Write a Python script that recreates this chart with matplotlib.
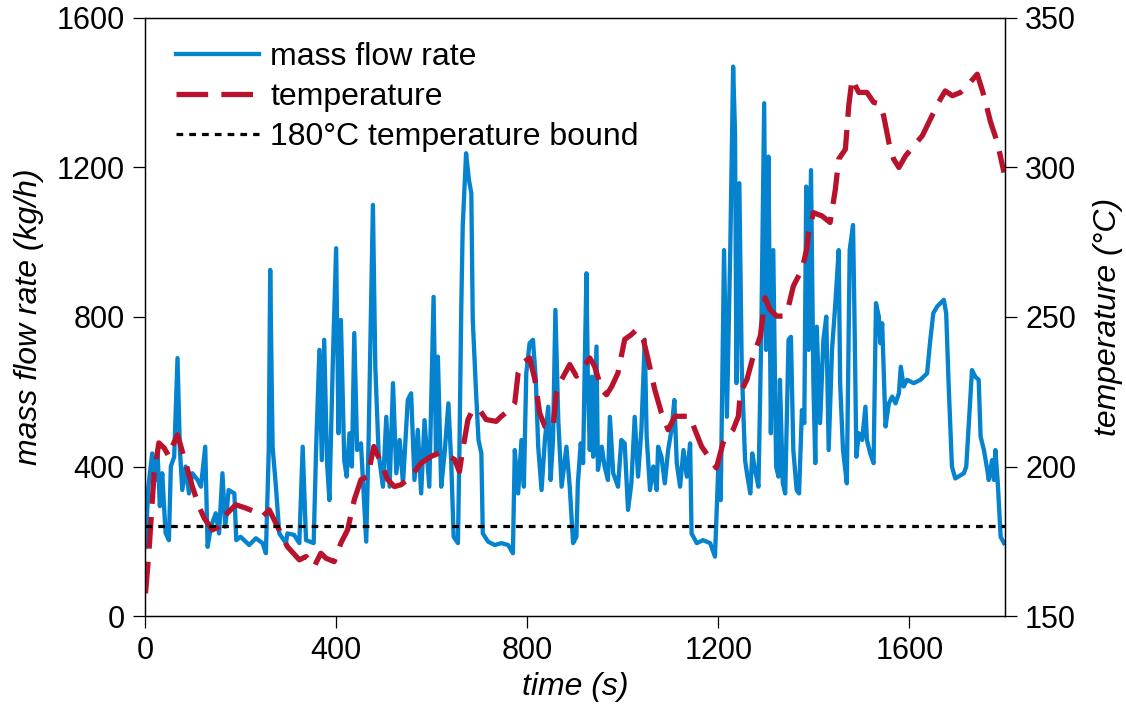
import matplotlib
matplotlib.use('Agg')
import matplotlib.pyplot as plt

plt.rcParams['font.family'] = ['Liberation Sans', 'DejaVu Sans']

# mass flow rate trace (s, kg/h)
flow_time = [1, 7, 15, 22, 26, 31, 36, 43, 50, 54, 61, 68, 73, 78, 85, 92, 99, 110, 117, 126,
             131, 138, 148, 155, 162, 168, 175, 187, 191, 200, 218, 232, 246, 253, 259, 262, 267, 274, 281, 295,
             298, 312, 323, 330, 337, 353, 358, 365, 370, 375, 381, 386, 393, 400, 405, 410, 417, 422, 428, 433,
             438, 444, 452, 463, 468, 477, 482, 489, 498, 505, 512, 519, 526, 533, 540, 550, 557, 564, 571, 578,
             585, 595, 604, 609, 613, 620, 627, 635, 641, 646, 655, 658, 662, 665, 672, 678, 683, 686, 693, 698,
             704, 707, 718, 732, 746, 760, 770, 774, 781, 788, 793, 798, 805, 812, 818, 823, 830, 837, 844, 849,
             854, 859, 865, 872, 882, 889, 896, 903, 906, 912, 917, 920, 924, 927, 931, 935, 938, 945, 948, 956,
             962, 969, 973, 980, 990, 997, 1004, 1011, 1018, 1025, 1032, 1039, 1046, 1050, 1057, 1064, 1071, 1074, 1081, 1088,
             1095, 1102, 1108, 1113, 1120, 1127, 1134, 1141, 1144, 1155, 1168, 1183, 1193, 1200, 1205, 1212, 1218, 1225, 1231, 1235,
             1238, 1244, 1249, 1256, 1261, 1267, 1271, 1277, 1284, 1290, 1296, 1300, 1305, 1310, 1315, 1321, 1326, 1329, 1335, 1340,
             1347, 1352, 1357, 1364, 1369, 1375, 1380, 1384, 1389, 1394, 1399, 1403, 1406, 1413, 1420, 1426, 1431, 1438, 1445, 1452,
             1455, 1461, 1469, 1475, 1482, 1485, 1489, 1494, 1501, 1508, 1511, 1518, 1525, 1530, 1536, 1539, 1543, 1550, 1557, 1564,
             1571, 1578, 1582, 1588, 1595, 1609, 1623, 1637, 1643, 1650, 1658, 1665, 1672, 1677, 1682, 1689, 1696, 1714, 1719, 1724,
             1731, 1738, 1745, 1749, 1756, 1763, 1766, 1773, 1777, 1780, 1785, 1791, 1798]
flow_rate = [185, 346, 435, 364, 444, 294, 382, 222, 203, 400, 426, 690, 444, 337, 400, 328, 382, 364, 346, 453,
             185, 239, 275, 221, 382, 239, 337, 328, 203, 212, 190, 208, 195, 168, 444, 926, 453, 346, 221, 195,
             221, 217, 195, 453, 203, 195, 444, 712, 417, 739, 409, 310, 676, 984, 489, 792, 417, 373, 489, 400,
             757, 444, 462, 199, 471, 1100, 667, 435, 346, 533, 346, 623, 382, 471, 355, 578, 596, 364, 498, 328,
             524, 346, 854, 435, 694, 346, 435, 569, 409, 212, 195, 435, 828, 1042, 1238, 1167, 1131, 792, 596, 471,
             435, 221, 199, 190, 195, 190, 168, 444, 328, 471, 346, 649, 730, 739, 632, 453, 337, 471, 560, 364,
             471, 819, 524, 346, 453, 346, 195, 212, 355, 462, 409, 640, 917, 623, 444, 640, 426, 721, 391, 453,
             400, 364, 533, 382, 346, 471, 462, 284, 355, 533, 373, 498, 739, 480, 337, 400, 337, 453, 426, 355,
             444, 498, 578, 409, 346, 444, 373, 462, 221, 195, 203, 195, 159, 400, 310, 979, 533, 979, 1470, 1292,
             623, 1158, 667, 417, 373, 328, 435, 391, 346, 757, 1372, 712, 1229, 489, 979, 400, 373, 632, 355, 328,
             739, 747, 444, 337, 328, 551, 516, 1149, 712, 1193, 623, 409, 774, 516, 739, 801, 444, 712, 837, 979,
             623, 444, 355, 979, 1046, 801, 426, 489, 471, 560, 471, 435, 409, 837, 801, 730, 783, 507, 569, 587,
             569, 596, 667, 614, 632, 623, 632, 649, 730, 810, 828, 837, 846, 810, 623, 400, 368, 382, 400, 507,
             658, 640, 632, 480, 444, 391, 364, 417, 364, 444, 355, 212, 195]

# temperature trace (s, degC)
temp_time = [1, 8, 19, 29, 40, 50, 57, 68, 85, 99, 113, 124, 141, 155, 172, 190, 211, 229, 246, 260,
             274, 298, 323, 337, 354, 368, 379, 396, 410, 424, 438, 452, 466, 479, 494, 508, 522, 536, 557, 578,
             599, 616, 637, 648, 658, 665, 676, 686, 700, 714, 735, 746, 763, 774, 781, 791, 805, 816, 826, 837,
             854, 861, 872, 889, 903, 914, 931, 941, 956, 966, 977, 990, 1004, 1018, 1029, 1043, 1053, 1067, 1081, 1095,
             1109, 1141, 1151, 1165, 1179, 1196, 1210, 1214, 1231, 1242, 1246, 1260, 1273, 1288, 1298, 1308, 1322, 1336, 1347, 1357,
             1375, 1385, 1389, 1399, 1417, 1434, 1445, 1452, 1466, 1473, 1480, 1487, 1494, 1511, 1525, 1539, 1546, 1557, 1567, 1578,
             1592, 1609, 1627, 1644, 1661, 1675, 1690, 1707, 1721, 1742, 1756, 1770, 1784, 1798]
temperature = [157.6, 171, 197.8, 207.9, 206.2, 203.4, 206.7, 210.6, 201.2, 193.3, 186.6, 182.7, 178.8, 179.9, 184.4, 187.2, 186.1, 184.9, 183.3, 185.5,
               181, 173.2, 168.8, 169.9, 166.5, 171, 169.3, 168.2, 174.4, 178.8, 188.9, 195.6, 196.7, 206.7, 201.2, 195.6, 193.3, 193.9, 196.7, 201.2,
               203.4, 204.5, 203.4, 202.3, 198.3, 205.6, 215.7, 219, 219, 215.7, 215.1, 216.8, 219, 221.3, 231.3, 234.7, 236.3, 229.1, 217.9, 213.4,
               212.9, 224.6, 229.1, 234.1, 230.2, 232.4, 236.3, 233.5, 225.7, 224, 226.8, 231.3, 242.5, 244.1, 245.8, 242.5, 235.8, 225.7, 217.9, 212.3,
               216.8, 216.8, 212.3, 206.7, 203.4, 199.5, 207.9, 209, 212.3, 216.8, 224.6, 229.1, 236.9, 243.6, 256.4, 252.5, 250.3, 250.3, 253.6, 260.3,
               265.9, 272.6, 278.2, 284.9, 283.8, 281.6, 292.7, 302.8, 306.1, 320.6, 329.6, 327.3, 325.1, 325.1, 321.8, 321.2, 317.3, 308.4, 302.8, 300,
               303.9, 307.2, 310.6, 316.2, 321.8, 325.6, 324, 325.1, 327.3, 331.2, 324, 315.1, 308.4, 298.3]

bound_temp = 180

fig = plt.figure(figsize=(11.26, 7.13), dpi=100)
ax = fig.add_subplot(111)
fig.subplots_adjust(left=0.1288, right=0.8925, bottom=0.136, top=0.9748)
ax2 = ax.twinx()

l1, = ax.plot(flow_time, flow_rate, color='#0583cf', lw=3.1, label='mass flow rate')
l2, = ax2.plot(temp_time, temperature, color='#b8122c', lw=3.8, dashes=(6.0, 2.5), label='temperature')
l3 = ax2.axhline(bound_temp, color='black', lw=2.3, dashes=(2.1, 1.9), label='180°C temperature bound')

ax.set_xlim(0, 1800)
ax.set_ylim(0, 1600)
ax2.set_ylim(150, 350)
ax.set_xticks([0, 400, 800, 1200, 1600])
ax.set_yticks([0, 400, 800, 1200, 1600])
ax2.set_yticks([150, 200, 250, 300, 350])

for a in (ax, ax2):
    a.tick_params(labelsize=22, length=8.5, width=0.9, pad=6, direction='out')
    for s in a.spines.values():
        s.set_linewidth(0.9)

ax.set_xlabel('time (s)', fontsize=23, style='italic')
ax.set_ylabel('mass flow rate (kg/h)', fontsize=23, style='italic')
ax2.set_ylabel('temperature (°C)', fontsize=23, style='italic')
ax.xaxis.set_label_coords(0.5, -0.094)
ax.yaxis.set_label_coords(-0.117, 0.5)
ax2.yaxis.set_label_coords(1.102, 0.5)

ax.legend(handles=[l1, l2, l3], loc='upper left', bbox_to_anchor=(0.008, 1.0), frameon=False,
          fontsize=23, handlelength=2.6, handletextpad=0.35, labelspacing=0.32,
          borderaxespad=0.35, borderpad=0.4)

fig.savefig('out.png', dpi=100)
